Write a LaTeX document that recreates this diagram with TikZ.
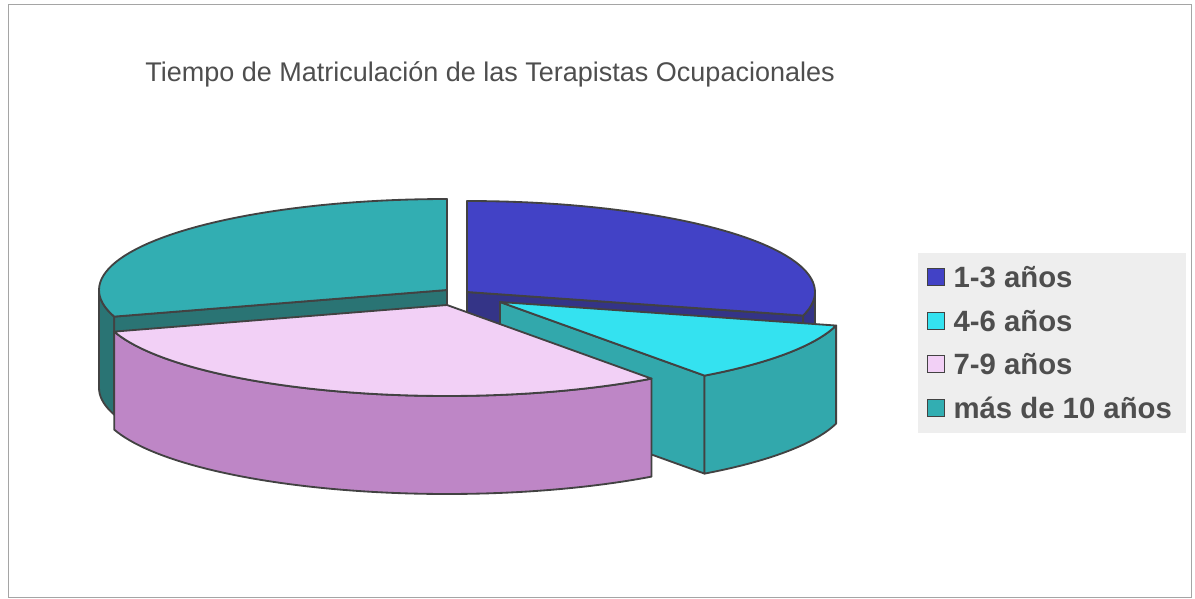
\documentclass[tikz,border=0pt]{standalone}
\usepackage{fontspec}
\setmainfont{Liberation Sans}
\usepackage{xcolor}
\usetikzlibrary{positioning}

\definecolor{bluetop}{RGB}{66,66,198}
\definecolor{blueside}{RGB}{52,52,135}
\definecolor{cyantop}{RGB}{52,226,240}
\definecolor{cyanside}{RGB}{50,168,172}
\definecolor{pinktop}{RGB}{242,208,246}
\definecolor{pinkside}{RGB}{190,134,198}
\definecolor{tealtop}{RGB}{50,174,178}
\definecolor{tealside}{RGB}{42,116,116}
\definecolor{edgegray}{RGB}{66,66,66}
\definecolor{textgray}{RGB}{78,78,78}
\definecolor{framegray}{RGB}{165,165,165}
\definecolor{keyback}{RGB}{238,238,238}

\begin{document}
\begin{tikzpicture}[x=0.6pt,y=-0.6pt,
    face/.style={draw=edgegray,line width=1.1pt,line join=round},
    keybox/.style={draw=edgegray,line width=0.6pt,minimum size=10pt,inner sep=0pt},
    keytext/.style={font=\bfseries\fontsize{17.6}{19}\selectfont,text=textgray,inner sep=0pt}]
  \def\ra{348} \def\rb{91} \def\dh{98}
  \useasboundingbox (0,0) rectangle (1195,599);
  \draw[framegray,line width=0.6pt] (8,5) rectangle (1191,597);
  \node (title) [font=\fontsize{16.2}{18}\selectfont,text=textgray,anchor=base]
    at (490,82) {Tiempo de Matriculación de las Terapistas Ocupacionales};

  % mas de 10 anos
  \draw[face,fill=tealside] plot[domain=180:197,samples=10,variable=\t]
    ({447+\ra*cos(\t)},{290-\rb*sin(\t)}) --
    plot[domain=197:180,samples=10,variable=\t]
    ({447+\ra*cos(\t)},{290+\dh-\rb*sin(\t)}) -- cycle;
  \draw[face,fill=tealside] (447,290) -- ({447+\ra*cos(197)},{290-\rb*sin(197)})
    -- ++(0,\dh) -- (447,{290+\dh}) -- cycle;
  \draw[face,fill=tealtop] (447,290) --
    plot[domain=90:197,samples=50,variable=\t]
    ({447+\ra*cos(\t)},{290-\rb*sin(\t)}) -- cycle;

  % 1-3 anos
  \draw[face,fill=blueside] (467,292) -- ({467+\ra*cos(-15)},{292-\rb*sin(-15)})
    -- ++(0,\dh) -- (467,{292+\dh}) -- cycle;
  \draw[face,fill=blueside] plot[domain=-15:0,samples=10,variable=\t]
    ({467+\ra*cos(\t)},{292-\rb*sin(\t)}) --
    plot[domain=0:-15,samples=10,variable=\t]
    ({467+\ra*cos(\t)},{292+\dh-\rb*sin(\t)}) -- cycle;
  \draw[face,fill=bluetop] (467,292) --
    plot[domain=-15:90,samples=50,variable=\t]
    ({467+\ra*cos(\t)},{292-\rb*sin(\t)}) -- cycle;

  % 4-6 anos
  \draw[face,fill=cyanside] (500,302) -- ({500+\ra*cos(-54)},{302-\rb*sin(-54)})
    -- ++(0,\dh) -- (500,{302+\dh}) -- cycle;
  \draw[face,fill=cyanside] plot[domain=-54:-15,samples=20,variable=\t]
    ({500+\ra*cos(\t)},{302-\rb*sin(\t)}) --
    plot[domain=-15:-54,samples=20,variable=\t]
    ({500+\ra*cos(\t)},{302+\dh-\rb*sin(\t)}) -- cycle;
  \draw[face] ({500+\ra*cos(-54)},{302-\rb*sin(-54)}) -- ++(0,\dh);
  \draw[face,fill=cyantop] (500,302) --
    plot[domain=-54:-15,samples=20,variable=\t]
    ({500+\ra*cos(\t)},{302-\rb*sin(\t)}) -- cycle;

  % 7-9 anos
  \draw[face,fill=pinkside] plot[domain=197:306,samples=60,variable=\t]
    ({447+\ra*cos(\t)},{305-\rb*sin(\t)}) --
    plot[domain=306:197,samples=60,variable=\t]
    ({447+\ra*cos(\t)},{305+\dh-\rb*sin(\t)}) -- cycle;
  \draw[face,fill=pinktop] (447,305) --
    plot[domain=197:306,samples=60,variable=\t]
    ({447+\ra*cos(\t)},{305-\rb*sin(\t)}) -- cycle;

  % legend
  \fill[keyback] (918,253) rectangle (1186,433);
  \node (key1) [keybox,fill=bluetop] at (936,277) {};
  \node (key2) [keybox,fill=cyantop] at (936,321) {};
  \node (key3) [keybox,fill=pinktop] at (936,364) {};
  \node (key4) [keybox,fill=tealtop] at (936,408) {};
  \node (lab1) [keytext,right=5pt of key1] {1-3 años};
  \node (lab2) [keytext,right=5pt of key2] {4-6 años};
  \node (lab3) [keytext,right=5pt of key3] {7-9 años};
  \node (lab4) [keytext,right=5pt of key4] {más de 10 años};
\end{tikzpicture}
\end{document}
